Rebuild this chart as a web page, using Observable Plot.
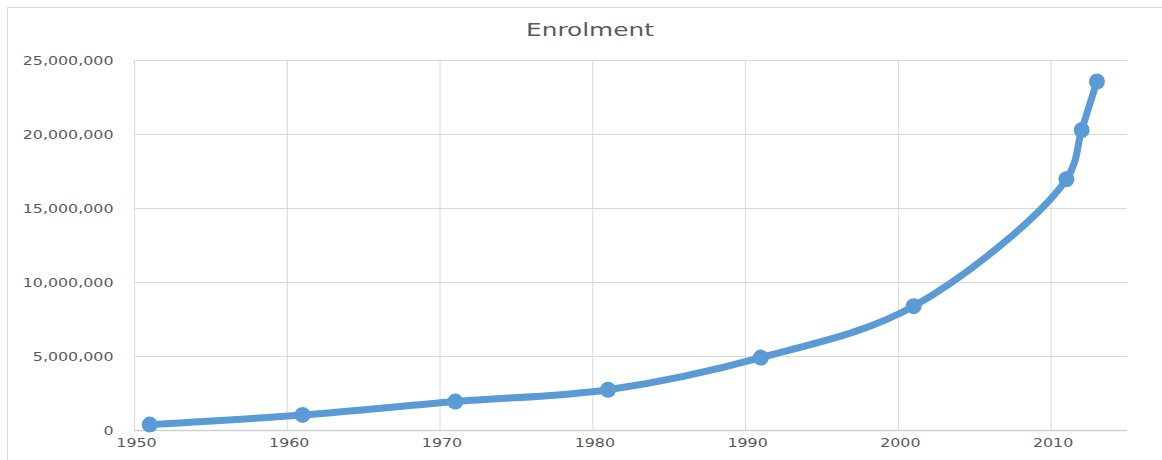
<!DOCTYPE html>
<html><head><meta charset="utf-8">
<script src="https://cdn.jsdelivr.net/npm/d3@7"></script>
<script src="https://cdn.jsdelivr.net/npm/@observablehq/plot@0.6"></script>
<style>
html,body{margin:0;padding:0;background:#fff;}
#wrap{position:relative;width:1162px;height:460px;overflow:hidden;}
#border{position:absolute;left:7px;top:7px;width:1170px;height:470px;border:1.5px solid #d9d9d9;box-sizing:border-box;}
#title{position:absolute;left:590px;top:19px;transform:translateX(-50%) scaleX(1.34);font-family:"DejaVu Sans",sans-serif;font-size:18.5px;color:#595959;white-space:nowrap;}
#chart{position:absolute;left:0;top:0;}
</style></head>
<body>
<div id="wrap"><div id="border"></div><div id="chart"></div><div id="title">Enrolment</div></div>
<script>
const years = [1951, 1961, 1971, 1981, 1991, 2001, 2011, 2012, 2013];
const enrolment = [397000, 1050000, 1954000, 2752000, 4925000, 8399000, 16975000, 20300000, 23580000];
const xTicks = [1950, 1960, 1970, 1980, 1990, 2000, 2010];
const yTicks = [0, 5000000, 10000000, 15000000, 20000000, 25000000];
const data = years.map((y, i) => ({year: y, value: enrolment[i]}));
const fmt = d3.format(",");
const plot = Plot.plot({
  width: 1162, height: 460,
  marginLeft: 134, marginRight: 35, marginTop: 60, marginBottom: 30,
  style: {fontFamily: "DejaVu Sans, sans-serif", fontSize: "12.5px", color: "#595959", background: "transparent"},
  x: {domain: [1950, 2015], ticks: xTicks, tickFormat: d => String(d), label: null, tickSize: 0, tickPadding: 8},
  y: {domain: [0, 25000000], ticks: yTicks, tickFormat: fmt, label: null, tickSize: 0, tickPadding: 21},
  marks: [
    Plot.gridX(xTicks, {stroke: "#d9d9d9", strokeOpacity: 1, strokeWidth: 1}),
    Plot.gridY(yTicks, {stroke: "#d9d9d9", strokeOpacity: 1, strokeWidth: 1}),
    Plot.ruleY([0], {stroke: "#d0d0d0", strokeWidth: 1.5}),
    Plot.axisX({ticks: xTicks, tickFormat: d => String(d), tickSize: 0, tickPadding: 8, label: null, dx: 2}),
    Plot.axisY({ticks: yTicks, tickFormat: fmt, tickSize: 0, tickPadding: 21, label: null}),
    Plot.line(data, {x: "year", y: "value", stroke: "#5b9bd5", strokeWidth: 7, curve: "catmull-rom"}),
    Plot.dot(data, {x: "year", y: "value", r: 8, fill: "#5b9bd5", stroke: "none"})
  ]
});
// widen the tick labels horizontally, as in the reference
plot.querySelectorAll('g[aria-label$="tick label"] text').forEach(t => {
  const tr = t.getAttribute("transform") || "";
  t.setAttribute("transform", tr + " scale(1.27,1)");
});
document.getElementById("chart").appendChild(plot);
</script>
</body></html>
